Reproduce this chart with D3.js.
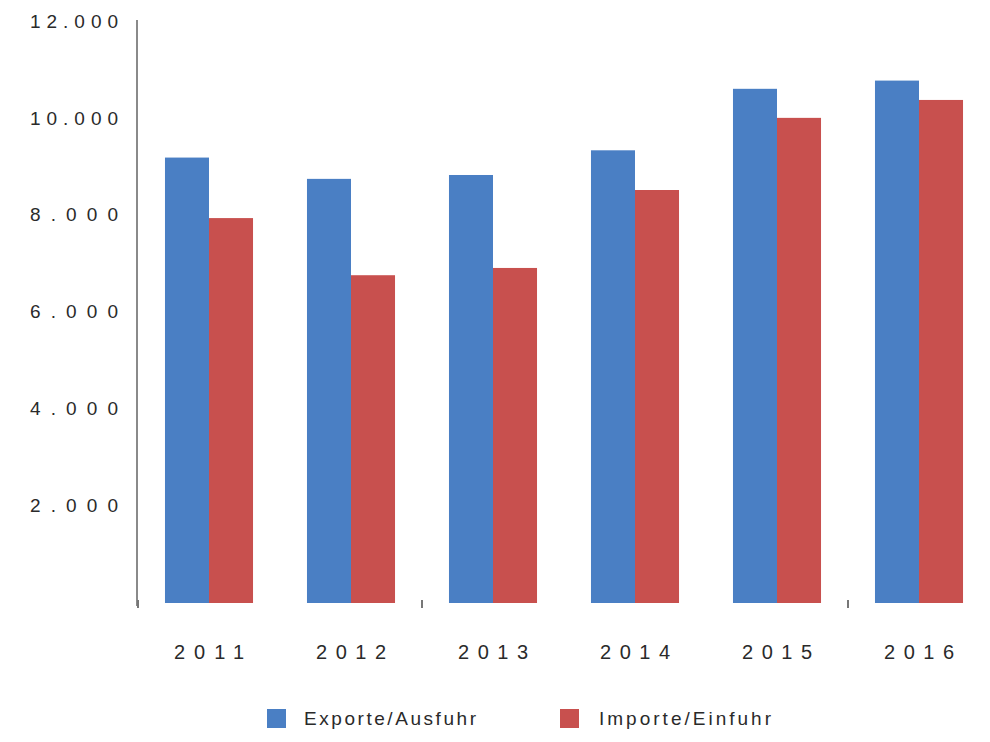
<!DOCTYPE html>
<html lang="de">
<head>
    <meta charset="UTF-8">
    <title>Exporte und Importe 2011-2016</title>
    <script src="https://d3js.org/d3.v7.min.js"></script>
    <style>
        body { margin: 0; background: #fff; }
        svg { display: block; }
        text {
            font-family: "Liberation Sans", Arial, sans-serif;
            fill: #2a2a2a;
        }
    </style>
</head>
<body>
    <svg width="990" height="742"></svg>

    <script>
        // Data
        const years = ["2011", "2012", "2013", "2014", "2015", "2016"];
        const seriesNames = ["Exporte/Ausfuhr", "Importe/Einfuhr"];
        const exporte = [9200, 8760, 8840, 9350, 10620, 10790];
        const importe = [7950, 6770, 6920, 8530, 10020, 10390];
        const yTicks = [2000, 4000, 6000, 8000, 10000, 12000];
        const colors = ["#4a7fc4", "#c8504e"];

        const svg = d3.select("svg");

        const x = d3.scaleBand()
            .domain(years)
            .range([138, 990])
            .paddingInner(0.38)
            .paddingOuter(0.19);

        const xInner = d3.scaleBand()
            .domain(seriesNames)
            .range([0, x.bandwidth()]);

        const y = d3.scaleLinear()
            .domain([0, 12000])
            .range([603, 22]);

        const de = d3.formatLocale({ decimal: ",", thousands: ".", grouping: [3], currency: ["", " €"] });
        const fmt = de.format(",");

        // Y axis
        const yAxis = svg.append("g")
            .attr("transform", "translate(137,0)")
            .call(d3.axisLeft(y).tickValues(yTicks).tickSize(0).tickPadding(19).tickFormat(fmt));
        yAxis.select(".domain").remove();
        yAxis.selectAll("text")
            .attr("font-size", 19)
            .attr("dy", "0.28em")
            .attr("textLength", 88)
            .attr("lengthAdjust", "spacing")
            .attr("fill", "#2a2a2a");

        svg.append("line")
            .attr("x1", 137).attr("x2", 137)
            .attr("y1", 20).attr("y2", 606)
            .attr("stroke", "#8a8a8a")
            .attr("stroke-width", 2);

        // small marks on the baseline
        svg.append("g")
            .selectAll("line")
            .data([0, 2, 5])
            .join("line")
            .attr("x1", d => 138 + d * x.step())
            .attr("x2", d => 138 + d * x.step())
            .attr("y1", 600).attr("y2", 608)
            .attr("stroke", "#777")
            .attr("stroke-width", 2);

        // Bars
        const groups = svg.append("g")
            .selectAll("g")
            .data(years)
            .join("g")
            .attr("transform", d => `translate(${x(d)},0)`);

        groups.selectAll("rect")
            .data((d, i) => [
                { name: seriesNames[0], value: exporte[i] },
                { name: seriesNames[1], value: importe[i] }
            ])
            .join("rect")
            .attr("x", d => xInner(d.name))
            .attr("width", xInner.bandwidth())
            .attr("y", d => y(d.value))
            .attr("height", d => y(0) - y(d.value))
            .attr("fill", (d, i) => colors[i]);

        // X labels
        svg.append("g")
            .selectAll("text")
            .data(years)
            .join("text")
            .attr("x", d => x(d) + x.bandwidth() / 2)
            .attr("y", 659)
            .attr("text-anchor", "middle")
            .attr("font-size", 20)
            .attr("textLength", 70)
            .attr("lengthAdjust", "spacing")
            .text(d => d);

        // Legend
        const legendX = [267, 560];
        const legend = svg.append("g")
            .selectAll("g")
            .data(seriesNames)
            .join("g")
            .attr("transform", (d, i) => `translate(${legendX[i]},709)`);

        legend.append("rect")
            .attr("width", 19)
            .attr("height", 19)
            .attr("fill", (d, i) => colors[i]);

        legend.append("text")
            .attr("x", (d, i) => i === 0 ? 37 : 39)
            .attr("y", 16)
            .attr("font-size", 19)
            .attr("textLength", 172)
            .attr("lengthAdjust", "spacing")
            .text(d => d);
    </script>
</body>
</html>
